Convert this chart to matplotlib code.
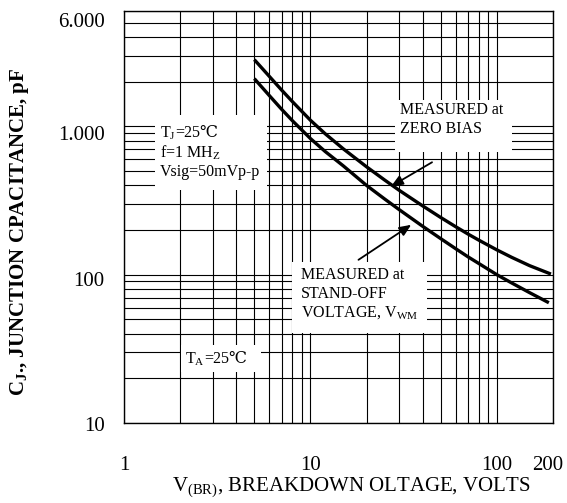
import matplotlib
matplotlib.use("Agg")
import matplotlib.pyplot as plt
from matplotlib.patches import Rectangle
from matplotlib.ticker import NullFormatter, FixedLocator, FixedFormatter
from matplotlib.transforms import Affine2D, ScaledTranslation

plt.rcParams['font.family'] = ['Liberation Serif', 'DejaVu Serif', 'DejaVu Sans']
plt.rcParams['mathtext.fontset'] = 'custom'
plt.rcParams['mathtext.rm'] = 'Liberation Serif'
plt.rcParams['mathtext.bf'] = 'Liberation Serif:bold'

# ---- data ----
voltage = [5, 6, 7, 8, 10, 12, 15, 20, 25, 30, 40, 50, 60, 70, 80, 100, 120, 150, 195]
cap_zero_bias = [2820, 2184, 1760, 1470, 1100, 892, 706, 534, 435, 370, 291,
                 243, 211, 188, 171, 147, 131, 115, 101]
voltage_wm = [5, 6, 7, 8, 10, 12, 15, 20, 25, 30, 40, 50, 60, 70, 80, 100, 120, 150, 190]
cap_standoff = [2100, 1621, 1306, 1093, 828, 677, 542, 400, 324, 274, 212,
                175, 150, 132, 119, 100, 88, 75.6, 64.7]

x_ticks = [1, 10, 100, 200]
x_tick_labels = ['1', '10', '100', '200']
y_ticks = [10, 100, 1000, 6000]
y_tick_labels = ['10', '100', '1.000', '6.000']

W, H = 567, 503
fig = plt.figure(figsize=(W / 100, H / 100), dpi=100)
ax = fig.add_axes([124 / W, 80 / H, 429 / W, 412 / H])
pix = Affine2D().scale(1 / W, -1 / H).translate(0, 1) + fig.transFigure

ax.set_xscale('log')
ax.set_yscale('log')
ax.set_xlim(1, 200)
ax.set_ylim(10, 6000)
ax.set_axisbelow(True)
ax.grid(which='both', color='black', lw=0.8)

ax.xaxis.set_major_locator(FixedLocator(x_ticks))
ax.xaxis.set_major_formatter(FixedFormatter(x_tick_labels))
ax.yaxis.set_major_locator(FixedLocator(y_ticks))
ax.yaxis.set_major_formatter(FixedFormatter(y_tick_labels))
ax.xaxis.set_minor_formatter(NullFormatter())
ax.yaxis.set_minor_formatter(NullFormatter())
ax.tick_params(which='both', length=0)
ax.tick_params(axis='x', pad=24, labelsize=15)
ax.tick_params(axis='y', pad=14, labelsize=15)
for s in ax.spines.values():
    s.set_linewidth(1.0)

# small nudges of tick labels (as in the reference)
xl = ax.get_xticklabels()
xl[-1].set_transform(xl[-1].get_transform() + ScaledTranslation(-5 / 100, 0, fig.dpi_scale_trans))
for lab, dy in zip(ax.get_yticklabels(), [1, 4, 7, 9]):
    lab.set_transform(lab.get_transform() + ScaledTranslation(0, -dy / 100, fig.dpi_scale_trans))

ax.plot(voltage, cap_zero_bias, color='black', lw=2.4, zorder=3,
        solid_capstyle='butt', solid_joinstyle='round')
ax.plot(voltage_wm, cap_standoff, color='black', lw=2.4, zorder=3,
        solid_capstyle='butt', solid_joinstyle='round')

# white boxes over the grid
boxes = [(155, 115, 112, 75), (395, 100, 117, 52), (292, 262, 135, 71),
         (181, 345, 80, 27)]
for (x0, y0, w, h) in boxes:
    ax.add_patch(Rectangle((x0, y0 + h), w, -h, transform=pix,
                           facecolor='white', edgecolor='none', zorder=1))

fs = 11.5
def t(x, y, s, **kw):
    return fig.text(x / W, 1 - y / H, s, fontsize=fs, ha='left', **kw)

t(160, 153, r'f=1 MH$_{\mathregular{Z}}$', va='center')
t(160, 172, 'Vsig=50mVp-p', va='center')
t(400, 110, 'MEASURED at', va='center')
t(400, 129, 'ZERO BIAS', va='center')
t(301, 275, 'MEASURED at', va='center')
t(301, 294, 'STAND-OFF', va='center')
t(301, 313, r'VOLTAGE, V$_{\mathregular{WM}}$', va='center')

# labels with the degree-Celsius sign: subscript part + plain part
renderer = fig.canvas.get_renderer()
for (x, yb, sub) in [(160, 137, 'J'), (185, 363, 'A')]:
    a = t(x, yb, r'T$_{\mathregular{%s}}$' % sub, va='baseline')
    bb = a.get_window_extent(renderer)
    fig.text((bb.x1 - 1) / W, 1 - yb / H, '=25℃', fontsize=fs, ha='left', va='baseline')

ap = dict(arrowstyle='-|>,head_length=0.7,head_width=0.3', color='black',
          lw=1.3, shrinkA=0, shrinkB=0)
ax.annotate('', xy=(27.1, 395), xytext=(44.9, 573), arrowprops=ap, zorder=4)
ax.annotate('', xy=(34.7, 217), xytext=(18.1, 126), arrowprops=ap, zorder=4)

fig.text(351 / W, 1 - 488 / H, r'V$_{\mathregular{(BR)}}$, BREAKDOWN OLTAGE, VOLTS',
         fontsize=15, ha='center', va='center')
fig.text(20 / W, 1 - 232 / H, r'C$_{\mathregular{J}}$., JUNCTION CPACITANCE, pF',
         fontsize=15, fontweight='bold', rotation=90, ha='center', va='center')

fig.savefig('out.png', dpi=100)
